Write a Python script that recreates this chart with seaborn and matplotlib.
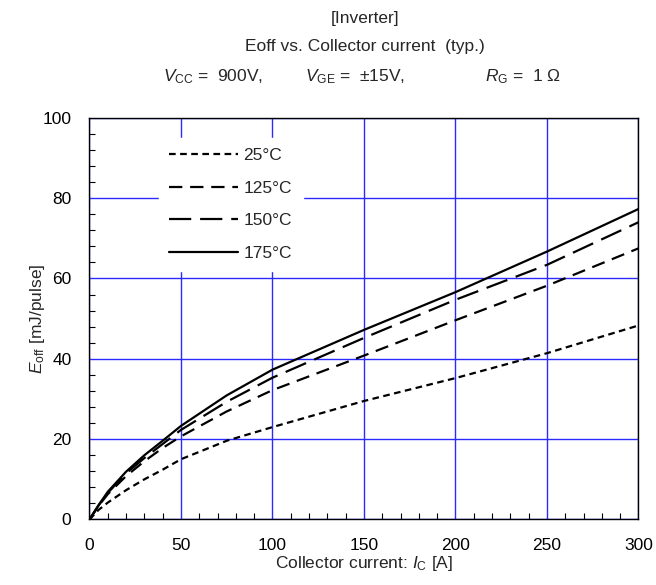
import matplotlib
matplotlib.use("Agg")
import matplotlib.pyplot as plt
from matplotlib.ticker import MultipleLocator
import pandas as pd
import seaborn as sns

# Turn-off energy vs collector current (typ.), read per junction temperature
current_a = [0, 5, 10, 20, 30, 40, 50, 75, 100, 150, 200, 250, 300]
eoff_25c = [0, 2.4, 4.2, 7.3, 10.0, 12.4, 15.0, 19.6, 23.0, 29.5, 35.2, 41.4, 48.3]
eoff_125c = [0, 3.4, 6.3, 10.8, 14.5, 17.8, 20.7, 26.9, 32.2, 40.8, 49.6, 58.2, 67.5]
eoff_150c = [0, 3.5, 6.6, 11.5, 15.3, 18.8, 22.3, 29.3, 35.3, 45.2, 54.7, 63.4, 74.0]
eoff_175c = [0, 3.6, 6.9, 11.9, 16.0, 19.6, 23.3, 30.9, 37.3, 47.2, 56.6, 66.7, 77.3]
temp_labels = ["25°C", "125°C", "150°C", "175°C"]

x_ticks = [0, 50, 100, 150, 200, 250, 300]
y_ticks = [0, 20, 40, 60, 80, 100]

sns.set_theme(style="white")
plt.rcParams["font.family"] = ["Liberation Sans", "DejaVu Sans"]
plt.rcParams["mathtext.fontset"] = "custom"
plt.rcParams["mathtext.rm"] = "Liberation Sans"
plt.rcParams["mathtext.it"] = "Liberation Sans:italic"
plt.rcParams["mathtext.bf"] = "Liberation Sans:bold"

frames = []
for lab, vals in zip(temp_labels, [eoff_25c, eoff_125c, eoff_150c, eoff_175c]):
    frames.append(pd.DataFrame({"Ic": current_a, "Eoff": vals, "Tj": lab}))
df = pd.concat(frames, ignore_index=True)

fig = plt.figure(figsize=(6.56, 5.85), dpi=100)
ax = fig.add_axes([0.1364, 0.112, 0.8369, 0.6866])

dash_styles = {
    "25°C": (3, 2),
    "125°C": (6, 3.5),
    "150°C": (10, 4),
    "175°C": "",
}
sns.lineplot(data=df, x="Ic", y="Eoff", style="Tj", style_order=temp_labels,
             dashes=dash_styles, color="black", linewidth=1.6, ax=ax,
             legend=True, zorder=3)

ax.set_xlim(0, 300)
ax.set_ylim(0, 100)
ax.set_xticks(x_ticks)
ax.set_yticks(y_ticks)
ax.xaxis.set_minor_locator(MultipleLocator(10))
ax.yaxis.set_minor_locator(MultipleLocator(4))
ax.grid(True, which="major", color="#2a2aff", linewidth=1.0, zorder=1)
ax.grid(False, which="minor")
ax.tick_params(which="both", direction="in", left=True, bottom=True,
               top=False, right=False, labelsize=12.5, colors="black")
ax.tick_params(which="major", length=0, pad=13)
ax.tick_params(which="minor", length=4, width=0.8)
for s in ax.spines.values():
    s.set_color("black")
    s.set_linewidth(1.0)

ax.set_xlabel(r"Collector current: $I_{\rm C}$ [A]", fontsize=12.5, labelpad=1)
ax.set_ylabel(r"$E_{\rm off}$ [mJ/pulse]", fontsize=12.5, labelpad=-3)

handles, labels = ax.get_legend_handles_labels()
leg = ax.legend(handles, labels, loc="upper left", bbox_to_anchor=(0.11, 0.972),
                frameon=True, fancybox=False, edgecolor="white", facecolor="white",
                framealpha=1.0, fontsize=12.5, handlelength=4.0, handletextpad=0.3,
                labelspacing=1.0, borderpad=0.6)
leg.set_zorder(5)

fig.text(0.556, 0.968, "[Inverter]", ha="center", va="center", fontsize=12.5)
fig.text(0.556, 0.920, "Eoff vs. Collector current  (typ.)", ha="center",
         va="center", fontsize=12.5)
fig.text(0.248, 0.869, r"$V_{\rm CC}$ =  900V,", ha="left", va="center", fontsize=12.5)
fig.text(0.465, 0.869, r"$V_{\rm GE}$ =  ±15V,", ha="left", va="center", fontsize=12.5)
fig.text(0.739, 0.869, r"$R_{\rm G}$ =  1 Ω", ha="left", va="center", fontsize=12.5)

fig.savefig("out.png", dpi=100, facecolor="white")
